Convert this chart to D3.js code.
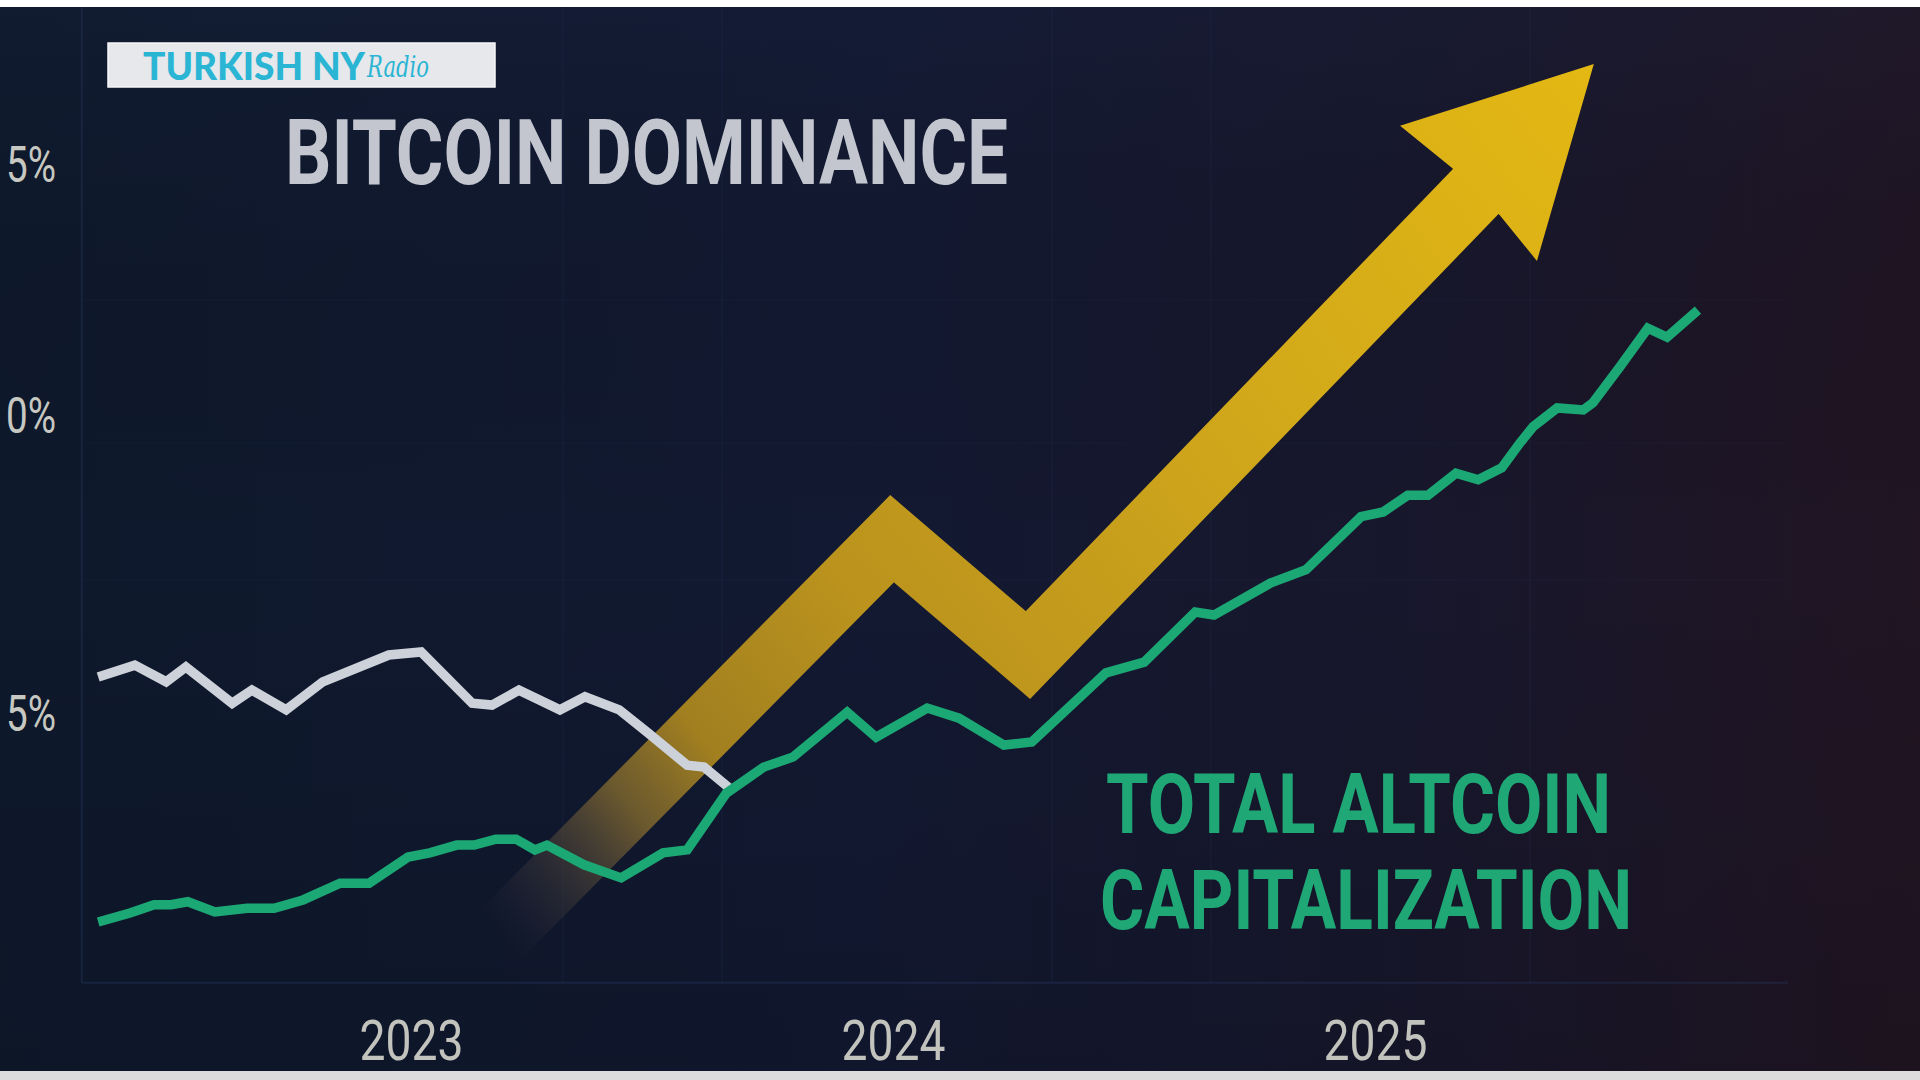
<!DOCTYPE html>
<html><head><meta charset="utf-8">
<script src="https://cdn.jsdelivr.net/npm/d3@7"></script>
<style>html,body{margin:0;padding:0;background:#0f1729;overflow:hidden}svg{display:block}</style>
</head><body>
<svg id="chart" width="1920" height="1080"></svg>
<script>
// ---------- data ----------
const btcYears = [2022.351, 2022.427, 2022.492, 2022.533, 2022.629, 2022.670, 2022.741, 2022.817, 2022.954, 2023.021, 2023.127, 2023.168, 2023.224, 2023.309, 2023.361, 2023.432, 2023.492, 2023.573, 2023.608, 2023.660];
const btcDominance = [55.62, 55.82, 55.54, 55.79, 55.18, 55.40, 55.07, 55.54, 55.99, 56.04, 55.18, 55.15, 55.40, 55.07, 55.29, 55.07, 54.68, 54.14, 54.11, 53.76];

const altYears = [2022.351, 2022.417, 2022.467, 2022.502, 2022.537, 2022.593, 2022.660, 2022.716, 2022.776, 2022.853, 2022.913, 2022.994, 2023.039, 2023.095, 2023.131, 2023.176, 2023.218, 2023.257, 2023.282, 2023.359, 2023.436, 2023.523, 2023.573, 2023.654, 2023.732, 2023.793, 2023.905, 2023.965, 2024.071, 2024.137, 2024.230, 2024.288, 2024.442, 2024.521, 2024.627, 2024.666, 2024.784, 2024.857, 2024.971, 2025.017, 2025.068, 2025.110, 2025.168, 2025.214, 2025.263, 2025.301, 2025.328, 2025.378, 2025.432, 2025.452, 2025.508, 2025.566, 2025.606, 2025.670];
const altcoinCap = [51.51, 51.66, 51.80, 51.80, 51.85, 51.68, 51.74, 51.74, 51.88, 52.16, 52.16, 52.60, 52.67, 52.80, 52.80, 52.90, 52.90, 52.72, 52.80, 52.47, 52.25, 52.67, 52.72, 53.67, 54.11, 54.28, 55.03, 54.61, 55.10, 54.93, 54.48, 54.53, 55.69, 55.87, 56.71, 56.66, 57.20, 57.42, 58.31, 58.39, 58.67, 58.67, 59.04, 58.93, 59.13, 59.55, 59.82, 60.16, 60.12, 60.26, 60.98, 61.75, 61.57, 62.11];

// trend arrow (annotation) in data units
const arrowYears = [2023.185, 2023.998, 2024.280, 2025.224];
const arrowValues = [51.29, 57.94, 55.99, 64.62];
const arrowHeadYears = [2025.454, 2025.052, 2025.160, 2025.259, 2025.336];
const arrowHeadValues = [67.01, 65.78, 64.94, 64.00, 63.09];

// tick labels as they appear in the picture (left digit cropped away in the original)
const yTickValues = [55, 60, 65];
const yTickLabels = ["5%", "0%", "5%"];
const xTickValues = [2023, 2024, 2025];
const xTickLabels = ["2023", "2024", "2025"];

const gridYears = [2023.315, 2023.645, 2024.330, 2024.660, 2025.322];
const gridValues = [62.31, 59.55, 57.25];
const plotYearRange = [2022.317, 2025.857];
const plotValueRange = [50.49, 68.13];

const titleText = "BITCOIN DOMINANCE";
const altLabelLines = ["TOTAL ALTCOIN", "CAPITALIZATION"];
const logoMain = "TURKISH NY";
const logoScript = "Radio";

// ---------- scales ----------
const x = d3.scaleLinear().domain([2023, 2025]).range([411, 1375]);
const y = d3.scaleLinear().domain([55, 60, 65]).range([714, 416, 165]);

const svg = d3.select("#chart");
const defs = svg.append("defs");

// background gradient
const bg = defs.append("linearGradient").attr("id", "bg").attr("x1", 0).attr("y1", 0).attr("x2", 1).attr("y2", 0);
[[0, "#0e192c"], [0.45, "#121932"], [0.75, "#18172c"], [1, "#211523"]].forEach(s =>
  bg.append("stop").attr("offset", s[0]).attr("stop-color", s[1]));
const bgv = defs.append("linearGradient").attr("id", "bgv").attr("x1", 0).attr("y1", 0).attr("x2", 0).attr("y2", 1);
bgv.append("stop").attr("offset", 0).attr("stop-color", "#1a2440").attr("stop-opacity", 0.25);
bgv.append("stop").attr("offset", 0.5).attr("stop-color", "#000").attr("stop-opacity", 0);
bgv.append("stop").attr("offset", 1).attr("stop-color", "#000").attr("stop-opacity", 0.12);

svg.append("rect").attr("width", 1920).attr("height", 1080).attr("fill", "url(#bg)");
svg.append("rect").attr("width", 1920).attr("height", 1080).attr("fill", "url(#bgv)");

// ---------- grid ----------
const grid = svg.append("g");
grid.selectAll("line.gv").data(gridYears).join("line")
  .attr("x1", d => x(d)).attr("x2", d => x(d))
  .attr("y1", y(plotValueRange[1])).attr("y2", y(plotValueRange[0]))
  .attr("stroke", "#3a4a78").attr("stroke-opacity", 0.09).attr("stroke-width", 2);
grid.selectAll("line.gh").data(gridValues).join("line")
  .attr("x1", x(plotYearRange[0])).attr("x2", x(plotYearRange[1]))
  .attr("y1", d => y(d)).attr("y2", d => y(d))
  .attr("stroke", "#3a4a78").attr("stroke-opacity", 0.05).attr("stroke-width", 2);
// plot frame (left + bottom)
grid.append("line")
  .attr("x1", x(plotYearRange[0])).attr("x2", x(plotYearRange[0]))
  .attr("y1", y(plotValueRange[1])).attr("y2", y(plotValueRange[0]))
  .attr("stroke", "#2c3a66").attr("stroke-opacity", 0.35).attr("stroke-width", 2);
grid.append("line")
  .attr("x1", x(plotYearRange[0])).attr("x2", x(plotYearRange[1]))
  .attr("y1", y(plotValueRange[0])).attr("y2", y(plotValueRange[0]))
  .attr("stroke", "#2c3a66").attr("stroke-opacity", 0.35).attr("stroke-width", 2);

// ---------- arrow ----------
const a0 = [x(arrowYears[0]), y(arrowValues[0])];
const aTip = [x(arrowHeadYears[0]), y(arrowHeadValues[0])];
const ag = defs.append("linearGradient").attr("id", "arrowGrad").attr("gradientUnits", "userSpaceOnUse")
  .attr("x1", a0[0]).attr("y1", a0[1]).attr("x2", aTip[0]).attr("y2", aTip[1]);
[[0, "#3c3844", 0], [0.06, "#5e5040", 0.35], [0.13, "#8a6f2e", 0.75], [0.2, "#a9851f", 0.95],
 [0.35, "#bb931d", 1], [0.65, "#d1a81a", 1], [1, "#e3b813", 1]].forEach(s =>
  ag.append("stop").attr("offset", s[0]).attr("stop-color", s[1]).attr("stop-opacity", s[2]));

const arrowData = arrowYears.map((d, i) => [d, arrowValues[i]]);
const lineGen = d3.line().x(d => x(d[0])).y(d => y(d[1]));
svg.append("path").datum(arrowData).attr("d", lineGen)
  .attr("fill", "none").attr("stroke", "url(#arrowGrad)").attr("stroke-width", 64)
  .attr("stroke-linejoin", "miter").attr("stroke-miterlimit", 10).attr("stroke-linecap", "butt");
const headData = arrowHeadYears.map((d, i) => [d, arrowHeadValues[i]]);
svg.append("path").datum(headData).attr("d", d => lineGen(d) + "Z")
  .attr("fill", "url(#arrowGrad)");

// ---------- series ----------
const btcData = btcYears.map((d, i) => [d, btcDominance[i]]);
const altData = altYears.map((d, i) => [d, altcoinCap[i]]);
svg.append("path").datum(btcData).attr("d", lineGen)
  .attr("fill", "none").attr("stroke", "#cdd1d9").attr("stroke-width", 9.5)
  .attr("stroke-linejoin", "miter").attr("stroke-linecap", "butt");
svg.append("path").datum(altData).attr("d", lineGen)
  .attr("fill", "none").attr("stroke", "#1ba874").attr("stroke-width", 9.5)
  .attr("stroke-linejoin", "miter").attr("stroke-linecap", "butt");

// ---------- axes ----------
const narrow = "'Liberation Sans Narrow', 'Arial Narrow', 'Roboto', 'Liberation Sans', sans-serif";
const yAxis = svg.append("g").attr("transform", "translate(56,0)")
  .call(d3.axisLeft(y).tickValues(yTickValues).tickFormat((d, i) => yTickLabels[i]).tickSize(0).tickPadding(0));
yAxis.select(".domain").remove();
yAxis.selectAll("text").attr("fill", "#c6c8c1").attr("font-family", narrow)
  .attr("font-size", 50).attr("textLength", 50).attr("lengthAdjust", "spacingAndGlyphs");

const xAxis = svg.append("g").attr("transform", "translate(0,1021)")
  .call(d3.axisBottom(x).tickValues(xTickValues).tickFormat((d, i) => xTickLabels[i]).tickSize(0).tickPadding(0));
xAxis.select(".domain").remove();
xAxis.selectAll("text").attr("fill", "#c2c3bd").attr("font-family", narrow)
  .attr("font-size", 55).attr("textLength", 104).attr("lengthAdjust", "spacingAndGlyphs");

// ---------- texts ----------
svg.append("text").attr("x", 285).attr("y", 184).text(titleText)
  .attr("font-family", narrow).attr("font-weight", 700).attr("font-size", 90)
  .attr("fill", "#c3c6ce").attr("textLength", 723).attr("lengthAdjust", "spacingAndGlyphs");

svg.append("text").attr("x", 1106).attr("y", 833).text(altLabelLines[0])
  .attr("font-family", narrow).attr("font-weight", 700).attr("font-size", 83)
  .attr("fill", "#1fa876").attr("textLength", 505).attr("lengthAdjust", "spacingAndGlyphs");
svg.append("text").attr("x", 1100).attr("y", 929).text(altLabelLines[1])
  .attr("font-family", narrow).attr("font-weight", 700).attr("font-size", 83)
  .attr("fill", "#1fa876").attr("textLength", 532).attr("lengthAdjust", "spacingAndGlyphs");

// ---------- logo ----------
svg.append("rect").attr("x", 108).attr("y", 43).attr("width", 387).attr("height", 44)
  .attr("fill", "#e7e8eb").attr("stroke", "#f6f6f8").attr("stroke-width", 1.5);
svg.append("text").attr("x", 143).attr("y", 80).text(logoMain)
  .attr("font-family", "Lato, 'Open Sans', sans-serif").attr("font-weight", 900).attr("font-size", 37)
  .attr("fill", "#2ab5d4").attr("textLength", 222).attr("lengthAdjust", "spacingAndGlyphs");
svg.append("text").attr("x", 367).attr("y", 77).text(logoScript)
  .attr("font-family", "'DejaVu Serif', serif").attr("font-style", "italic").attr("font-weight", 300)
  .attr("font-size", 30).attr("fill", "#2ab5d4").attr("textLength", 62).attr("lengthAdjust", "spacingAndGlyphs");

// ---------- frame strips ----------
svg.append("rect").attr("x", 0).attr("y", 0).attr("width", 1920).attr("height", 7).attr("fill", "#ffffff");
svg.append("rect").attr("x", 0).attr("y", 1071).attr("width", 1920).attr("height", 9).attr("fill", "#dcdcdc");
</script>
</body></html>
